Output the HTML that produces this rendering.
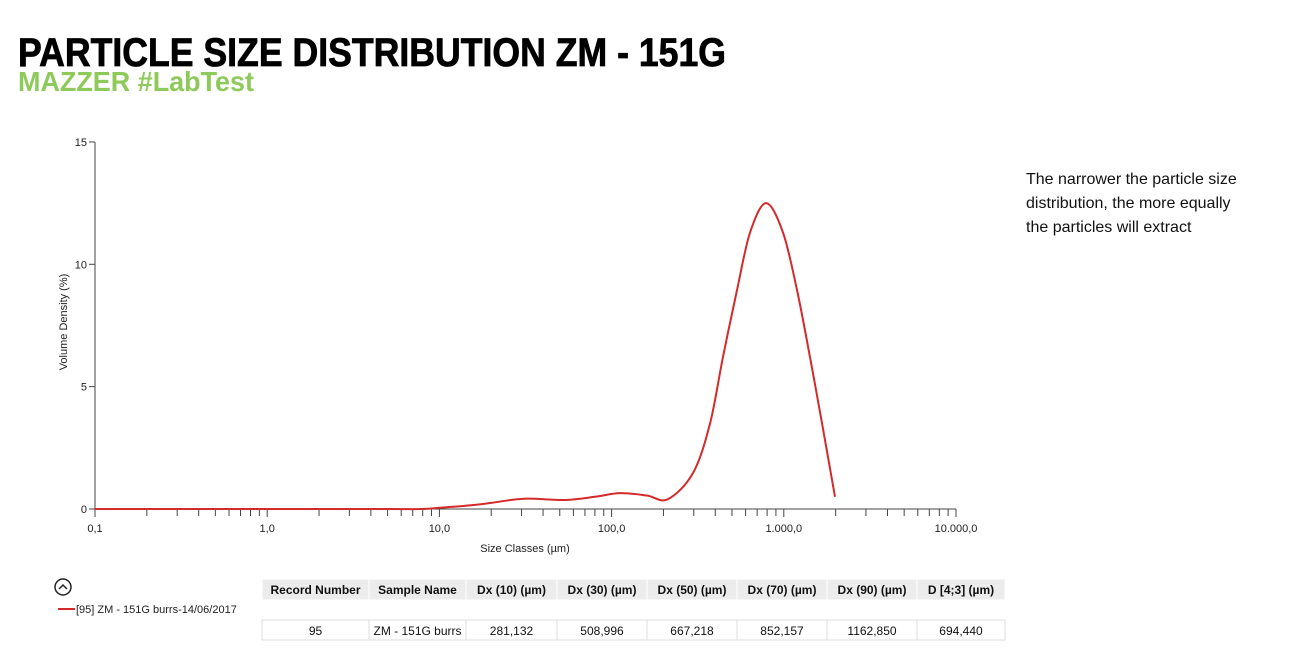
<!DOCTYPE html>
<html><head><meta charset="utf-8"><style>
body{margin:0;background:#fff;width:1289px;height:660px;overflow:hidden}
svg{display:block}
text{font-family:"Liberation Sans",sans-serif}
</style></head><body>
<svg id="c" width="1289" height="660">
<text x="18" y="66" font-family="Liberation Sans Narrow, Liberation Sans, sans-serif" font-weight="bold" font-size="40" textLength="708" lengthAdjust="spacingAndGlyphs" fill="#000" stroke="#000" stroke-width="0.8">PARTICLE SIZE DISTRIBUTION ZM - 151G</text>
<text x="18" y="91" font-family="Liberation Sans Narrow, Liberation Sans, sans-serif" font-weight="bold" font-size="28" textLength="236" lengthAdjust="spacingAndGlyphs" fill="#8dca5a">MAZZER #LabTest</text>
<g font-size="16" fill="#111">
<text x="1026" y="184">The narrower the particle size</text>
<text x="1026" y="208">distribution, the more equally</text>
<text x="1026" y="232">the particles will extract</text>
</g>
<g id="axes"></g>
<path id="curve" fill="none" stroke="#d42a2a" stroke-width="2"/>
<text x="-322" y="67" transform="rotate(-90)" text-anchor="middle" font-size="11" fill="#222">Volume Density (%)</text>
<text x="525" y="552" text-anchor="middle" font-size="11" fill="#222">Size Classes (µm)</text>
<circle cx="63" cy="587" r="8" fill="none" stroke="#222" stroke-width="1.5"/>
<path d="M59 589 L63 585 L67 589" fill="none" stroke="#222" stroke-width="1.5"/>
<line x1="58" y1="609" x2="75" y2="609" stroke="#d42a2a" stroke-width="2"/>
<text x="76" y="613" font-size="11" fill="#222">[95] ZM - 151G burrs-14/06/2017</text>
<g id="table"></g>
</svg>
<script>
const sizes=[0.1,1,5,8,10,15,20,31,54,80,112,160,212,297,373,443,535,637,789,989,1193,1420,1667,1983];
const values=[0,0,0,0,0.05,0.15,0.25,0.42,0.37,0.5,0.65,0.55,0.4,1.47,3.5,6.2,8.95,11.3,12.5,11.3,8.95,6.2,3.5,0.5];
const yTicks=[0,5,10,15];
const xLabels=["0,1","1,0","10,0","100,0","1.000,0","10.000,0"];
const headers=["Record Number","Sample Name","Dx (10) (µm)","Dx (30) (µm)","Dx (50) (µm)","Dx (70) (µm)","Dx (90) (µm)","D [4;3] (µm)"];
const rowVals=["95","ZM - 151G burrs","281,132","508,996","667,218","852,157","1162,850","694,440"];
const NS="http://www.w3.org/2000/svg";
const X=v=>95+(Math.log10(v)+1)*172.2;
const Y=v=>509-v*24.47;
function mk(t,a,p){const e=document.createElementNS(NS,t);for(const k in a)e.setAttribute(k,a[k]);(p||document.getElementById('axes')).appendChild(e);return e;}
let e=mk('line',{x1:95,y1:142,x2:95,y2:509,stroke:'#444'});


e=mk('line',{x1:95,y1:509,x2:956,y2:509,stroke:'#444'});


yTicks.forEach(t=>{mk('line',{x1:89,x2:95,y1:Y(t),y2:Y(t),stroke:'#444'});
const tx=mk('text',{x:87,y:Y(t)+4,'text-anchor':'end','font-size':11,fill:'#222'});tx.textContent=t;

});
xLabels.forEach((l,i)=>{const v=Math.pow(10,i-1);mk('line',{x1:X(v),x2:X(v),y1:509,y2:517,stroke:'#444'});
const tx=mk('text',{x:X(v),y:532,'text-anchor':'middle','font-size':11,fill:'#222'});tx.textContent=l;


if(i<5)for(let m=2;m<10;m++)mk('line',{x1:X(v*m),x2:X(v*m),y1:509,y2:516,stroke:'#444'});});
const pts=sizes.map((s,i)=>[X(s),Y(values[i])]);
let d='M'+pts[0].join(' ');
for(let i=0;i<pts.length-1;i++){const p0=pts[Math.max(0,i-1)],p1=pts[i],p2=pts[i+1],p3=pts[Math.min(pts.length-1,i+2)];
d+=` C${p1[0]+(p2[0]-p0[0])/6} ${p1[1]+(p2[1]-p0[1])/6} ${p2[0]-(p3[0]-p1[0])/6} ${p2[1]-(p3[1]-p1[1])/6} ${p2[0]} ${p2[1]}`;}
document.getElementById('curve').setAttribute('d',d);
const tb=document.getElementById('table');
const colX=[262,369,466,557,647,737,827,917,1005];
headers.forEach((h,i)=>{mk('rect',{x:colX[i],y:579,width:colX[i+1]-colX[i],height:21,fill:'#ececec',stroke:'#fff'},tb);
const t=mk('text',{x:(colX[i]+colX[i+1])/2,y:594,'text-anchor':'middle','font-size':12,'font-weight':'bold',fill:'#111'},tb);t.textContent=h;

});
rowVals.forEach((h,i)=>{mk('rect',{x:colX[i],y:620,width:colX[i+1]-colX[i],height:20,fill:'#fff',stroke:'#ddd'},tb);
const t=mk('text',{x:(colX[i]+colX[i+1])/2,y:635,'text-anchor':'middle','font-size':12,fill:'#111'},tb);t.textContent=h;

});
</script>
</body></html>
